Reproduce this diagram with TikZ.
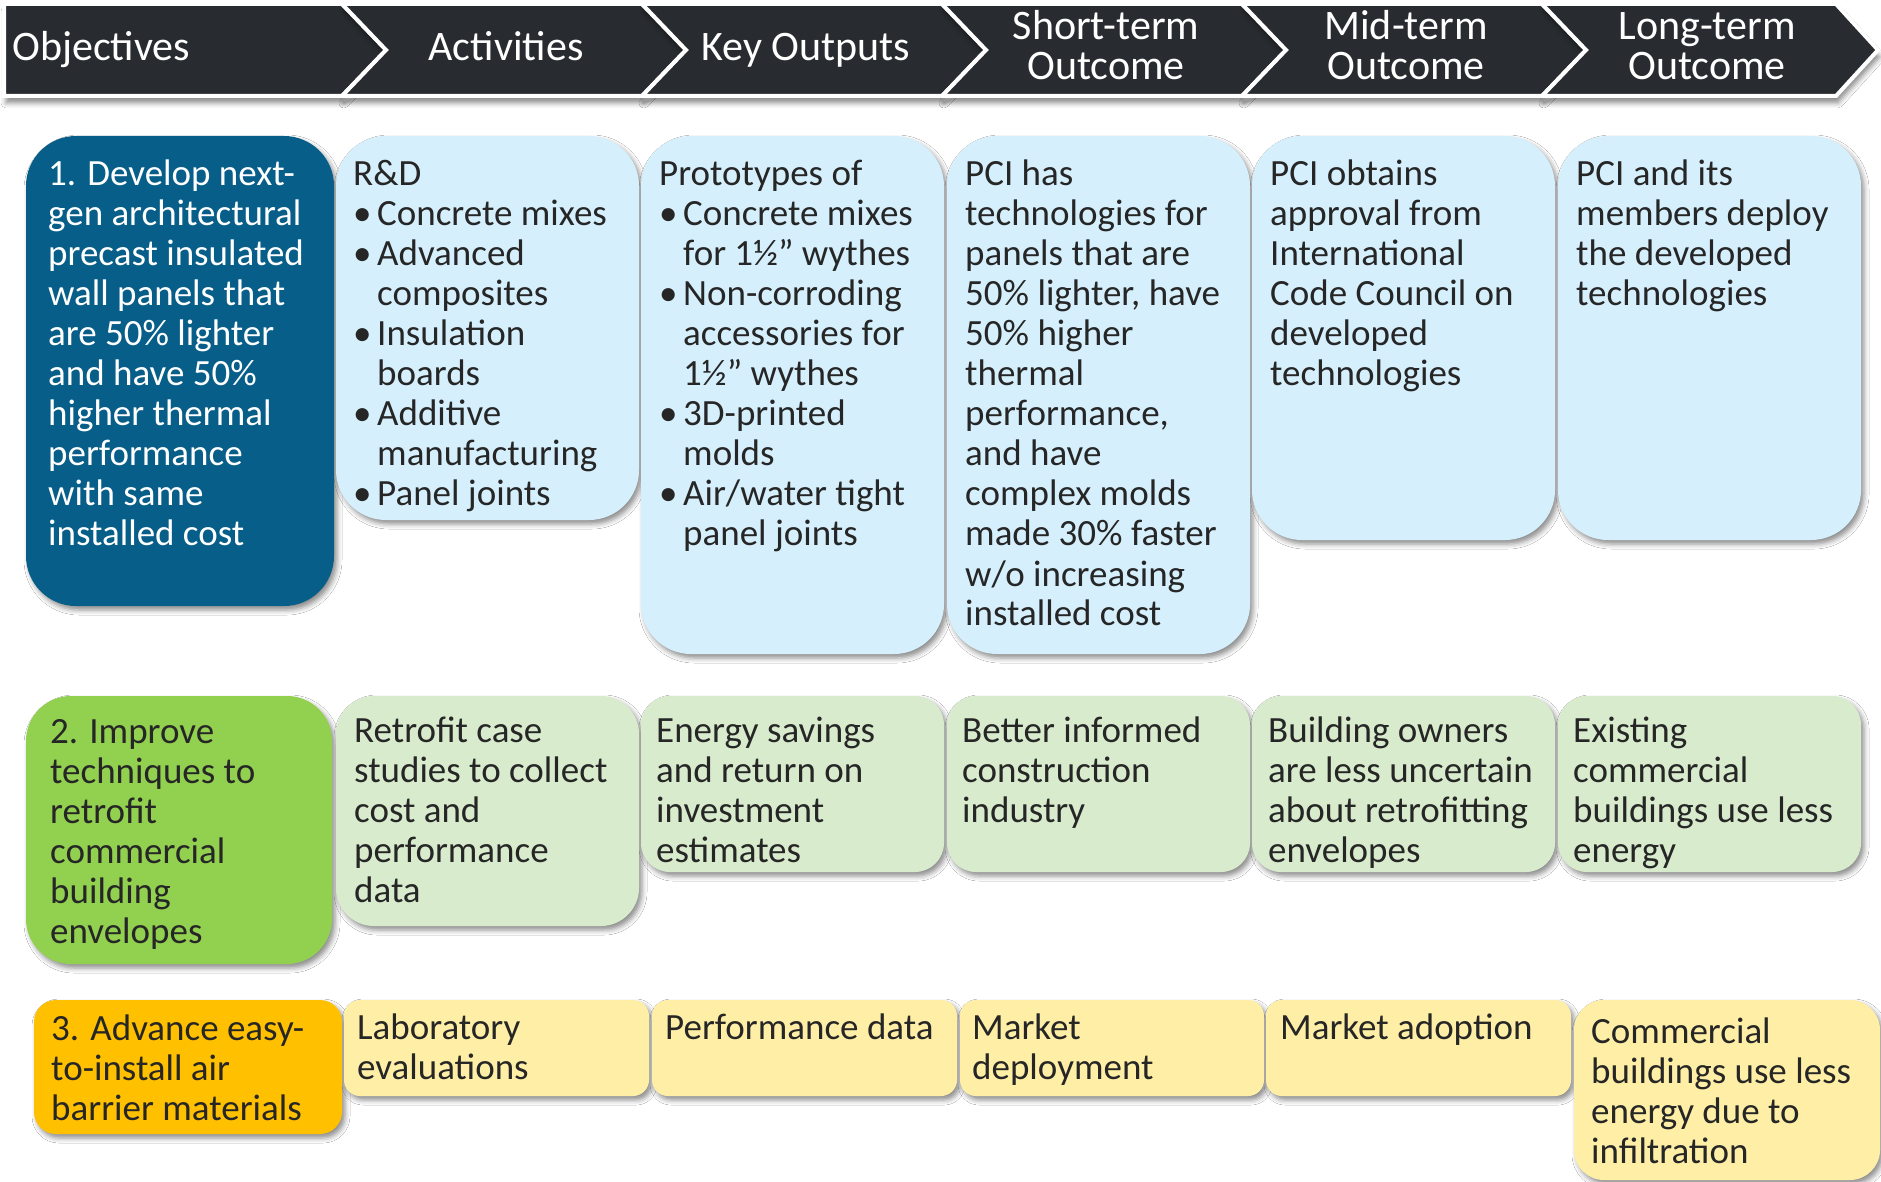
\documentclass[tikz,border=0pt]{standalone}
\usepackage{fontspec}
\setmainfont{Carlito}
\usetikzlibrary{shadows.blur}

\definecolor{hdr}{HTML}{282C30}
\definecolor{dblue}{HTML}{075E88}
\definecolor{lblue}{HTML}{D5F0FC}
\definecolor{green}{HTML}{92D050}
\definecolor{lgreen}{HTML}{D8ECCD}
\definecolor{orange}{HTML}{FFC000}
\definecolor{lyellow}{HTML}{FFEFA6}
\definecolor{ink}{HTML}{262626}

% bullet with hanging indent for list lines
\newcommand\bul{\makebox[24pt][l]{\textbullet}}
\newcommand\bulind{\hspace*{24pt}}
% stacked lines whose baseline is the first line
\newcommand\llines[1]{\begin{tabular}[t]{@{}l@{}}#1\end{tabular}}
\newcommand\clines[1]{\begin{tabular}[t]{@{}c@{}}#1\end{tabular}}

\begin{document}
\begin{tikzpicture}[x=1pt,y=-1pt,
  chev/.style={fill=hdr, draw=white, line width=4pt, line join=miter,
    blur shadow={shadow xshift=2pt, shadow yshift=-7pt, shadow blur radius=5pt, shadow opacity=45}},
  box/.style={rectangle, inner sep=0pt, outer sep=0pt, anchor=north west, draw=none,
    blur shadow={shadow xshift=3pt, shadow yshift=-4pt, shadow blur radius=5pt, shadow opacity=45}},
  txt/.style={anchor=base west, inner sep=0pt, text=ink,
    font=\fontsize{37}{40}\selectfont},
  hdrtxt/.style={anchor=base, inner sep=0pt, text=white,
    font=\fontsize{42}{40}\selectfont},
]
\fill[white] (0,0) rectangle (1881,1182);
\useasboundingbox (0,0) rectangle (1881,1182);

% ---- header chevrons ----
\path[chev] (4,4) -- (342,4) -- (386,50) -- (342,96) -- (4,96) -- cycle;
\path[chev] (342,4) -- (642,4) -- (686,50) -- (642,96) -- (342,96) -- (386,50) -- cycle;
\path[chev] (642,4) -- (942,4) -- (986,50) -- (942,96) -- (642,96) -- (686,50) -- cycle;
\path[chev] (942,4) -- (1242,4) -- (1286,50) -- (1242,96) -- (942,96) -- (986,50) -- cycle;
\path[chev] (1242,4) -- (1542,4) -- (1586,50) -- (1542,96) -- (1242,96) -- (1286,50) -- cycle;
\path[chev] (1542,4) -- (1836,4) -- (1878,50) -- (1836,96) -- (1542,96) -- (1586,50) -- cycle;

\node[hdrtxt, anchor=base west] (h1) at (12,61) {Objectives};
\node[hdrtxt] (h2) at (506,61) {Activities};
\node[hdrtxt] (h3) at (806,61) {Key Outputs};
\node[hdrtxt] (h4) at (1106,40) {\clines{Short-term\\Outcome}};
\node[hdrtxt] (h5) at (1406,40) {\clines{Mid-term\\Outcome}};
\node[hdrtxt] (h6) at (1707,40) {\clines{Long-term\\Outcome}};

% ---- row 1 ----
\node[box, fill=dblue, minimum width=308pt, minimum height=470pt, rounded corners=50pt] (o1) at (26,136) {};
\node[box, fill=lblue, minimum width=303pt, minimum height=384pt, rounded corners=50pt] (a1) at (336,136) {};
\node[box, fill=lblue, minimum width=303pt, minimum height=518pt, rounded corners=50pt] (k1) at (641,136) {};
\node[box, fill=lblue, minimum width=303pt, minimum height=518pt, rounded corners=50pt] (s1) at (947,136) {};
\node[box, fill=lblue, minimum width=303pt, minimum height=404pt, rounded corners=50pt] (m1) at (1252,136) {};
\node[box, fill=lblue, minimum width=303pt, minimum height=404pt, rounded corners=50pt] (l1) at (1558,136) {};

\node[txt, text=white] (o1t) at (48,186) {\llines{1. Develop next-\\gen architectural\\precast insulated\\wall panels that\\are 50\% lighter\\and have 50\%\\higher thermal\\performance\\with same\\installed cost}};
\node[txt] (a1t) at (353,186) {\llines{R\&D\\\bul Concrete mixes\\\bul Advanced\\\bulind composites\\\bul Insulation\\\bulind boards\\\bul Additive\\\bulind manufacturing\\\bul Panel joints}};
\node[txt] (k1t) at (659,186) {\llines{Prototypes of\\\bul Concrete mixes\\\bulind for 1½” wythes\\\bul Non-corroding\\\bulind accessories for\\\bulind 1½” wythes\\\bul 3D-printed\\\bulind molds\\\bul Air/water tight\\\bulind panel joints}};
\node[txt] (s1t) at (965,186) {\llines{PCI has\\technologies for\\panels that are\\50\% lighter, have\\50\% higher\\thermal\\performance,\\and have\\complex molds\\made 30\% faster\\w/o increasing\\installed cost}};
\node[txt] (m1t) at (1270,186) {\llines{PCI obtains\\approval from\\International\\Code Council on\\developed\\technologies}};
\node[txt] (l1t) at (1576,186) {\llines{PCI and its\\members deploy\\the developed\\technologies}};

% ---- row 2 ----
\node[box, fill=green, minimum width=306pt, minimum height=268pt, rounded corners=45pt] (o2) at (26,696) {};
\node[box, fill=lgreen, minimum width=303pt, minimum height=230pt, rounded corners=38pt] (a2) at (336,696) {};
\node[box, fill=lgreen, minimum width=303pt, minimum height=176pt, rounded corners=29pt] (k2) at (641,696) {};
\node[box, fill=lgreen, minimum width=303pt, minimum height=176pt, rounded corners=29pt] (s2) at (947,696) {};
\node[box, fill=lgreen, minimum width=303pt, minimum height=176pt, rounded corners=29pt] (m2) at (1252,696) {};
\node[box, fill=lgreen, minimum width=303pt, minimum height=176pt, rounded corners=29pt] (l2) at (1558,696) {};

\node[txt] (o2t) at (50,743) {\llines{2. Improve\\techniques to\\retrofit\\commercial\\building\\envelopes}};
\node[txt] (a2t) at (354,742) {\llines{Retrofit case\\studies to collect\\cost and\\performance\\data}};
\node[txt] (k2t) at (656,742) {\llines{Energy savings\\and return on\\investment\\estimates}};
\node[txt] (s2t) at (962,742) {\llines{Better informed\\construction\\industry}};
\node[txt] (m2t) at (1268,742) {\llines{Building owners\\are less uncertain\\about retrofitting\\envelopes}};
\node[txt] (l2t) at (1573,742) {\llines{Existing\\commercial\\buildings use less\\energy}};

% ---- row 3 ----
\node[box, fill=orange, minimum width=308pt, minimum height=134pt, rounded corners=22pt] (o3) at (34,1000) {};
\node[box, fill=lyellow, minimum width=305pt, minimum height=96pt, rounded corners=16pt] (a3) at (344,1000) {};
\node[box, fill=lyellow, minimum width=305pt, minimum height=96pt, rounded corners=16pt] (k3) at (652,1000) {};
\node[box, fill=lyellow, minimum width=304pt, minimum height=96pt, rounded corners=16pt] (s3) at (960,1000) {};
\node[box, fill=lyellow, minimum width=305pt, minimum height=96pt, rounded corners=16pt] (m3) at (1266,1000) {};
\node[box, fill=lyellow, minimum width=306pt, minimum height=180pt, rounded corners=30pt] (l3) at (1574,1000) {};

\node[txt] (o3t) at (51,1040) {\llines{3. Advance easy-\\to-install air\\barrier materials}};
\node[txt] (a3t) at (357,1039) {\llines{Laboratory\\evaluations}};
\node[txt] (k3t) at (665,1039) {Performance data};
\node[txt] (s3t) at (972,1039) {\llines{Market\\deployment}};
\node[txt] (m3t) at (1280,1039) {Market adoption};
\node[txt] (l3t) at (1591,1043) {\llines{Commercial\\buildings use less\\energy due to\\infiltration}};
\end{tikzpicture}
\end{document}
